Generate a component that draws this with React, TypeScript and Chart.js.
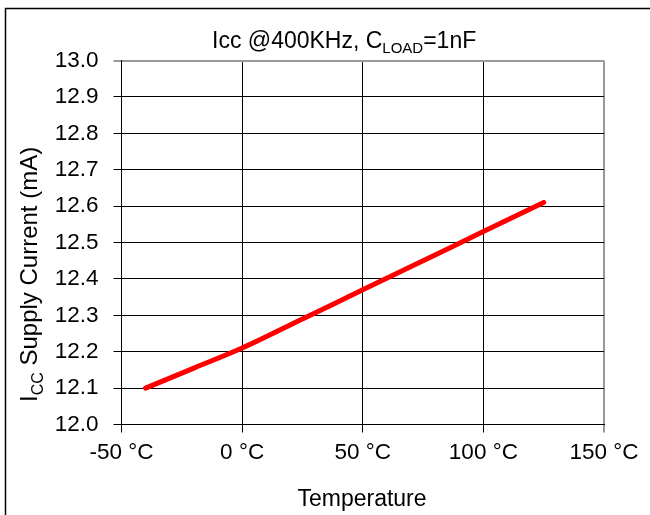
import React, { useEffect, useRef } from "react";
import { Chart, registerables } from "chart.js";

Chart.register(...registerables);

const temperatures = [-40, -20, 0, 25, 50, 75, 100, 125];
const iccValues = [12.1, 12.155, 12.21, 12.29, 12.37, 12.45, 12.53, 12.61];
const xTicks = [-50, 0, 50, 100, 150];
const yTicks = [12.0, 12.1, 12.2, 12.3, 12.4, 12.5, 12.6, 12.7, 12.8, 12.9, 13.0];

const FONT = '"Liberation Sans", Arial, sans-serif';
const BIG = 22.5;
const TITLE = 23;
const YT = 24;
const SMALL = 15;

const textPlugin = {
  id: "texts",
  beforeDraw(chart: any) {
    const ctx = chart.ctx;
    ctx.save();
    ctx.fillStyle = "#fff";
    ctx.fillRect(0, 0, chart.width, chart.height);
    ctx.strokeStyle = "#000";
    ctx.lineWidth = 1.5;
    ctx.beginPath();
    ctx.moveTo(5.5, chart.height + 5);
    ctx.lineTo(5.5, 8.5);
    ctx.lineTo(chart.width + 5, 8.5);
    ctx.stroke();
    ctx.restore();
  },
  afterDraw(chart: any) {
    const ctx = chart.ctx;
    ctx.save();
    ctx.fillStyle = "#000";
    ctx.textBaseline = "alphabetic";
    ctx.textAlign = "left";
    // title
    let x = 212;
    const by = 48;
    const parts: [string, number, number][] = [
      ["Icc @400KHz, C", TITLE, 0],
      ["LOAD", SMALL, 5],
      ["=1nF", TITLE, 0],
    ];
    for (const [t, s, dy] of parts) {
      ctx.font = `${s}px ${FONT}`;
      ctx.fillText(t, x, by + dy);
      x += ctx.measureText(t).width;
    }
    // y axis title
    ctx.translate(37, 402);
    ctx.rotate(-Math.PI / 2);
    let lx = 0;
    const yparts: [string, number, number][] = [
      ["I", YT, 0],
      ["CC", 16, 6],
      [" Supply Current (mA)", YT, 0],
    ];
    for (const [t, s, dy] of yparts) {
      ctx.font = `${s}px ${FONT}`;
      ctx.fillText(t, lx, dy);
      lx += ctx.measureText(t).width;
    }
    ctx.setTransform(1, 0, 0, 1, 0, 0);
    // x axis title
    ctx.font = `${TITLE}px ${FONT}`;
    ctx.textAlign = "center";
    ctx.fillText("Temperature", 362, 506);
    ctx.restore();
  },
};

export default function App() {
  const ref = useRef<HTMLCanvasElement | null>(null);
  useEffect(() => {
    if (!ref.current) return;
    const chart = new Chart(ref.current, {
      type: "line",
      data: {
        datasets: [
          {
            data: temperatures.map((t, i) => ({ x: t, y: iccValues[i] })),
            borderColor: "#ff0000",
            borderWidth: 5,
            pointRadius: 0,
            tension: 0.3,
            cubicInterpolationMode: "monotone",
            borderCapStyle: "round",
            fill: false,
          },
        ],
      },
      options: {
        animation: false,
        responsive: false,
        devicePixelRatio: 1,
        layout: { padding: { left: 0, top: 60.5, right: 46, bottom: 0 } },
        plugins: { legend: { display: false }, tooltip: { enabled: false }, title: { display: false } },
        scales: {
          x: {
            type: "linear",
            min: -50,
            max: 150,
            afterBuildTicks: (s: any) => {
              s.ticks = xTicks.map((v) => ({ value: v }));
            },
            afterFit: (s: any) => {
              s.height = 515 - 424.5;
            },
            ticks: {
              font: { family: FONT, size: BIG },
              color: "#000",
              padding: 7,
              maxRotation: 0,
              callback: (v: any) => `${v} °C`,
            },
            grid: {
              color: (c: any) => (c.tick && c.tick.value === 150 ? "#999" : "#000"),
              lineWidth: (c: any) => (c.tick && c.tick.value === 150 ? 2 : 1),
              tickLength: 8,
              drawTicks: true,
            },
            border: { color: "#000", width: 1 },
          },
          y: {
            type: "linear",
            min: 12,
            max: 13,
            afterBuildTicks: (s: any) => {
              s.ticks = yTicks.map((v) => ({ value: v }));
            },
            afterFit: (s: any) => {
              s.width = 121.5;
            },
            ticks: {
              font: { family: FONT, size: BIG },
              color: "#000",
              padding: 15,
              callback: (v: any) => Number(v).toFixed(1),
            },
            grid: {
              color: (c: any) => (c.tick && Math.abs(c.tick.value - 13) < 1e-6 ? "#999" : "#000"),
              lineWidth: (c: any) => (c.tick && Math.abs(c.tick.value - 13) < 1e-6 ? 2 : 1),
              tickLength: 8,
              drawTicks: true,
            },
            border: { color: "#000", width: 1 },
          },
        },
      },
      plugins: [textPlugin],
    } as any);
    return () => chart.destroy();
  }, []);
  return (
    <canvas
      ref={ref}
      width={650}
      height={515}
      style={{ position: "fixed", left: 0, top: 0, width: 650, height: 515 }}
    />
  );
}
